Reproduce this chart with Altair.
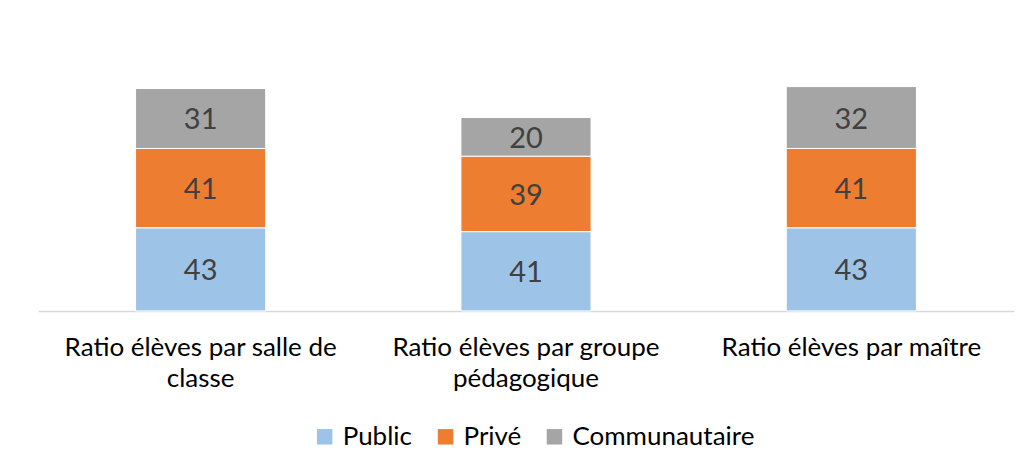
import altair as alt
import pandas as pd

categories = [
    "Ratio élèves par salle de classe",
    "Ratio élèves par groupe pédagogique",
    "Ratio élèves par maître",
]
label_lines = {
    "Ratio élèves par salle de classe": ["Ratio élèves par salle de", "classe"],
    "Ratio élèves par groupe pédagogique": ["Ratio élèves par groupe", "pédagogique"],
    "Ratio élèves par maître": ["Ratio élèves par maître"],
}
series = ["Public", "Privé", "Communautaire"]
colors = ["#9DC3E6", "#ED7D31", "#A5A5A5"]
public = [43, 41, 43]
prive = [41, 39, 41]
communautaire = [31, 20, 32]

rows = []
for i, c in enumerate(categories):
    for k, (s, vals) in enumerate(zip(series, [public, prive, communautaire])):
        rows.append({"cat": c, "serie": s, "ord": k, "val": vals[i]})
df = pd.DataFrame(rows)

expr_parts = []
for c, lines in label_lines.items():
    arr = "[" + ",".join("'" + l + "'" for l in lines) + "]"
    expr_parts.append(f"datum.label == '{c}' ? {arr} : ")
label_expr = "".join(expr_parts) + "datum.label"

FONT = "Lato"

x_enc = alt.X(
    "cat:N",
    sort=categories,
    title=None,
    scale=alt.Scale(paddingInner=0.6, paddingOuter=0.3),
    axis=alt.Axis(
        labelExpr=label_expr,
        labelAngle=0,
        labelFont=FONT,
        labelFontSize=26,
        labelColor="#000000",
        labelLineHeight=31,
        labelPadding=24,
        ticks=False,
        domainColor="#D9D9D9",
        domainWidth=1.5,
        labelLimit=400,
    ),
)

base = alt.Chart(df).transform_stack(
    stack="val", groupby=["cat"], as_=["y0", "y1"], sort=[alt.SortField("ord", "ascending")]
)

bars = base.mark_bar(stroke="white", strokeWidth=1).encode(
    x=x_enc,
    y=alt.Y("y0:Q", scale=alt.Scale(domain=[0, 140]), axis=None),
    y2="y1:Q",
    color=alt.Color(
        "serie:N",
        sort=series,
        scale=alt.Scale(domain=series, range=colors),
        legend=alt.Legend(
            title=None,
            orient="none",
            direction="horizontal",
            legendX=274,
            legendY=384,
            symbolType="square",
            symbolSize=240,
            symbolStrokeWidth=0,
            labelFont=FONT,
            labelFontSize=26,
            labelColor="#000000",
            labelOffset=5,
            labelLimit=400,
            columnPadding=20,
            padding=0,
        ),
    ),
)

texts = base.transform_calculate(mid="(datum.y0 + datum.y1) / 2").mark_text(
    font=FONT, fontSize=29, color="#404040", baseline="middle", dy=2
).encode(
    x=alt.X("cat:N", sort=categories),
    y=alt.Y("mid:Q", scale=alt.Scale(domain=[0, 140])),
    text=alt.Text("val:Q"),
)

chart = (
    alt.layer(bars, texts)
    .properties(
        width=977,
        height=271,
        background="white",
        padding={"left": 30, "top": 32, "right": 5, "bottom": 5},
    )
    .configure_view(stroke=None)
)

chart.save("out.html", embed_options={"renderer": "svg", "actions": False})
